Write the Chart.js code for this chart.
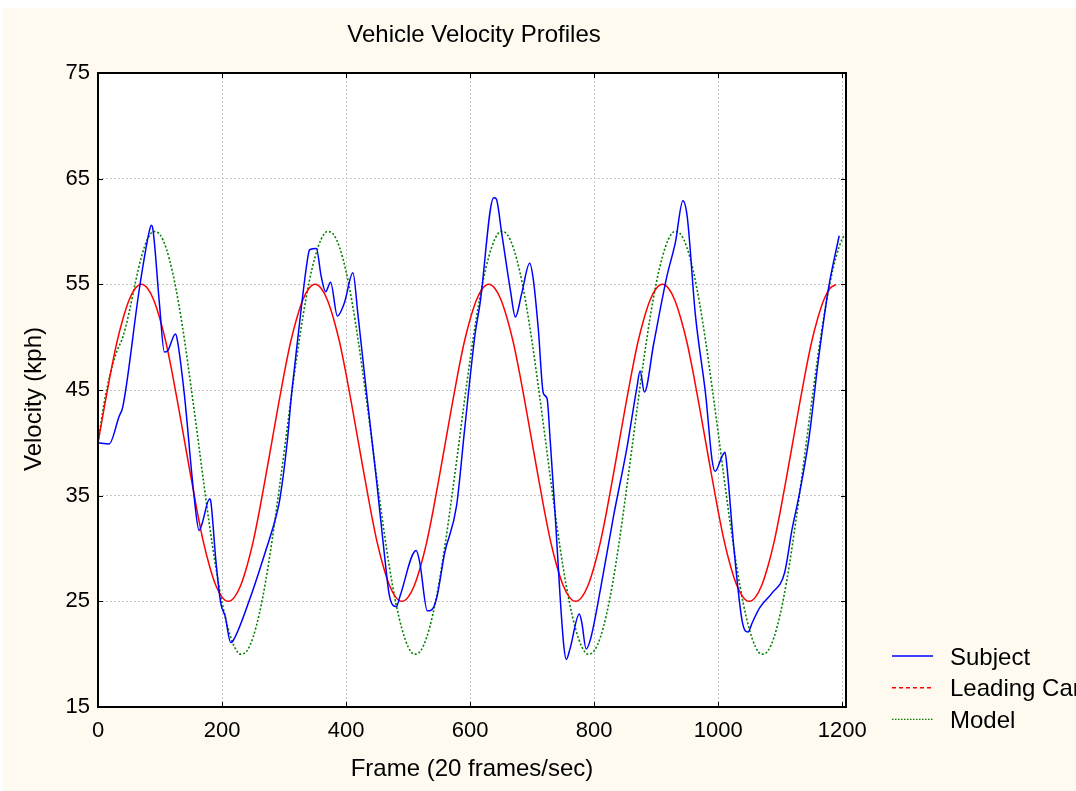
<!DOCTYPE html>
<html>
<head>
<meta charset="utf-8">
<title>Vehicle Velocity Profiles</title>
<script src="https://cdn.jsdelivr.net/npm/chart.js@4.4.1/dist/chart.umd.min.js"></script>
<style>
  html, body { margin: 0; padding: 0; background: #ffffff; }
  #wrap { width: 1076px; height: 791px; position: relative; }
</style>
</head>
<body>
<div id="wrap"><canvas id="velocityChart"></canvas></div>
<script>
"use strict";

// frame numbers sampled every 10 frames (20 frames/sec)
const frames = [
  0, 10, 20, 30, 40, 50, 60, 70, 80, 90, 100, 110, 120, 130, 140, 150, 160, 170, 180, 190,
  200, 210, 220, 230, 240, 250, 260, 270, 280, 290, 300, 310, 320, 330, 340, 350, 360, 370, 380, 390,
  400, 410, 420, 430, 440, 450, 460, 470, 480, 490, 500, 510, 520, 530, 540, 550, 560, 570, 580, 590,
  600, 610, 620, 630, 640, 650, 660, 670, 680, 690, 700, 710, 720, 730, 740, 750, 760, 770, 780, 790,
  800, 810, 820, 830, 840, 850, 860, 870, 880, 890, 900, 910, 920, 930, 940, 950, 960, 970, 980, 990,
  1000, 1010, 1020, 1030, 1040, 1050, 1060, 1070, 1080, 1090, 1100, 1110, 1120, 1130, 1140, 1150, 1160, 1170, 1180, 1190,
  1200, 1210
];

// leading car speed (kph), frames 0..1190
const leadingCar = [
  40.0, 43.3, 46.5, 49.4, 51.7, 53.5, 54.6, 55.0, 54.6, 53.5, 51.7, 49.4, 46.5, 43.3, 40.0, 36.7, 33.5, 30.6, 28.3, 26.5,
  25.4, 25.0, 25.4, 26.5, 28.3, 30.6, 33.5, 36.7, 40.0, 43.3, 46.5, 49.4, 51.7, 53.5, 54.6, 55.0, 54.6, 53.5, 51.7, 49.4,
  46.5, 43.3, 40.0, 36.7, 33.5, 30.6, 28.3, 26.5, 25.4, 25.0, 25.4, 26.5, 28.3, 30.6, 33.5, 36.7, 40.0, 43.3, 46.5, 49.4,
  51.7, 53.5, 54.6, 55.0, 54.6, 53.5, 51.7, 49.4, 46.5, 43.3, 40.0, 36.7, 33.5, 30.6, 28.3, 26.5, 25.4, 25.0, 25.4, 26.5,
  28.3, 30.6, 33.5, 36.7, 40.0, 43.3, 46.5, 49.4, 51.7, 53.5, 54.6, 55.0, 54.6, 53.5, 51.7, 49.4, 46.5, 43.3, 40.0, 36.7,
  33.5, 30.6, 28.3, 26.5, 25.4, 25.0, 25.4, 26.5, 28.3, 30.6, 33.5, 36.7, 40.0, 43.3, 46.5, 49.4, 51.7, 53.5, 54.6, 55.0
];

// model output (kph), frames 0..1210
const model = [
  40.0, 43.8, 46.6, 48.6, 50.0, 52.3, 55.1, 57.6, 59.3, 60.0, 59.7, 58.4, 56.2, 53.2, 49.5, 45.3, 40.9, 36.4, 32.1, 28.2,
  24.9, 22.4, 20.7, 20.0, 20.3, 21.6, 23.8, 26.8, 30.5, 34.7, 39.1, 43.6, 47.9, 51.8, 55.1, 57.6, 59.3, 60.0, 59.7, 58.4,
  56.2, 53.2, 49.5, 45.3, 40.9, 36.4, 32.1, 28.2, 24.9, 22.4, 20.7, 20.0, 20.3, 21.6, 23.8, 26.8, 30.5, 34.7, 39.1, 43.6,
  47.9, 51.8, 55.1, 57.6, 59.3, 60.0, 59.7, 58.4, 56.2, 53.2, 49.5, 45.3, 40.9, 36.4, 32.1, 28.2, 24.9, 22.4, 20.7, 20.0,
  20.3, 21.6, 23.8, 26.8, 30.5, 34.7, 39.1, 43.6, 47.9, 51.8, 55.1, 57.6, 59.3, 60.0, 59.7, 58.4, 56.2, 53.2, 49.5, 45.3,
  40.9, 36.4, 32.1, 28.2, 24.9, 22.4, 20.7, 20.0, 20.3, 21.6, 23.8, 26.8, 30.5, 34.7, 39.1, 43.6, 47.9, 51.8, 55.1, 57.6,
  59.3, 60.0
];

// subject (driver) speed, irregular samples
const subjectFrames = [
  0, 18, 34, 40, 67, 83, 86, 88, 99, 107, 112, 125, 128, 139, 155, 163, 168, 180, 182, 190,
  198, 205, 214, 217, 244, 271, 287, 293, 306, 311, 317, 328, 340, 342, 352, 360, 367, 375, 386, 397,
  411, 419, 433, 449, 462, 470, 481, 487, 513, 519, 531, 538, 546, 559, 578, 591, 608, 616, 638, 642,
  651, 665, 673, 683, 696, 702, 710, 718, 724, 729, 737, 745, 751, 755, 761, 776, 780, 787, 794, 810,
  831, 853, 869, 874, 881, 896, 917, 931, 943, 950, 963, 980, 990, 995, 1006, 1011, 1014, 1025, 1039, 1048,
  1055, 1067, 1087, 1107, 1119, 1130, 1146, 1162, 1178, 1195
];
const subjectSpeed = [
  40.0, 39.9, 42.5, 43.4, 54.7, 60.1, 60.6, 60.4, 53.2, 48.6, 48.7, 50.3, 49.7, 44.7, 34.9, 31.7, 32.4, 34.7, 34.4, 28.9,
  24.8, 23.6, 21.1, 21.2, 25.1, 29.9, 33.0, 34.6, 40.6, 44.0, 47.2, 52.9, 58.1, 58.3, 58.4, 55.7, 54.3, 55.2, 52.0, 53.2,
  56.1, 52.2, 44.7, 36.5, 29.3, 25.5, 24.5, 25.5, 29.8, 28.6, 24.1, 24.2, 25.3, 29.6, 34.0, 41.2, 50.3, 53.2, 63.2, 63.1,
  59.8, 54.4, 51.9, 54.1, 57.0, 55.4, 50.7, 44.7, 44.2, 40.3, 33.3, 25.5, 20.8, 19.5, 20.5, 23.8, 23.0, 20.5, 21.4, 26.1,
  33.0, 39.6, 45.3, 46.8, 44.8, 49.4, 55.7, 59.0, 62.9, 61.4, 52.2, 44.4, 38.4, 37.3, 38.7, 39.1, 37.8, 30.2, 23.0, 22.1,
  23.0, 24.4, 25.8, 27.7, 31.8, 34.9, 40.3, 48.1, 54.7, 59.6
];

const xTicks = [0, 200, 400, 600, 800, 1000, 1200];
const yTicks = [15, 25, 35, 45, 55, 65, 75];

const FONT = "'Liberation Sans', Arial, sans-serif";

function pairs(xs, ys) {
  return ys.map((y, i) => ({ x: xs[i], y: y }));
}

// background, frame, inner ticks, titles and legend
const decor = {
  id: "decor",
  beforeDraw(chart) {
    const ctx = chart.ctx;
    const a = chart.chartArea;
    ctx.save();
    ctx.fillStyle = "#ffffff";
    ctx.fillRect(0, 0, chart.width, chart.height);
    ctx.fillStyle = "#fffaf0";
    ctx.fillRect(3, 8, chart.width - 3, chart.height - 8);
    ctx.fillStyle = "#ffffff";
    ctx.fillRect(a.left, a.top, a.right - a.left, a.bottom - a.top);
    ctx.restore();
  },
  afterDraw(chart) {
    const ctx = chart.ctx;
    const a = chart.chartArea;
    const xs = chart.scales.x;
    const ys = chart.scales.y;
    ctx.save();
    ctx.strokeStyle = "#000000";
    ctx.lineWidth = 1;
    ctx.beginPath();
    xTicks.forEach((v) => {
      const px = Math.round(xs.getPixelForValue(v)) + 0.5;
      ctx.moveTo(px, a.top); ctx.lineTo(px, a.top + 5);
      ctx.moveTo(px, a.bottom); ctx.lineTo(px, a.bottom - 5);
    });
    yTicks.forEach((v) => {
      const py = Math.round(ys.getPixelForValue(v)) + 0.5;
      ctx.moveTo(a.left, py); ctx.lineTo(a.left + 5, py);
      ctx.moveTo(a.right, py); ctx.lineTo(a.right - 5, py);
    });
    ctx.stroke();
    ctx.lineWidth = 2;
    ctx.strokeRect(a.left, a.top, a.right - a.left, a.bottom - a.top);

    ctx.fillStyle = "#000000";
    ctx.font = "24px " + FONT;
    ctx.textAlign = "center";
    ctx.textBaseline = "middle";
    // chart title
    ctx.fillText("Vehicle Velocity Profiles", (a.left + a.right) / 2 + 2, 35);
    // y axis title
    ctx.save();
    ctx.translate(34, 399);
    ctx.rotate(-Math.PI / 2);
    ctx.fillText("Velocity (kph)", 0, 0);
    ctx.restore();

    // legend
    const items = [
      { label: "Subject", color: "#0000ff", dash: [] },
      { label: "Leading Car", color: "#ff0000", dash: [4, 3] },
      { label: "Model", color: "#008000", dash: [1.5, 1.5] }
    ];
    ctx.textAlign = "left";
    items.forEach((it, i) => {
      const y = 656 + i * 31.7;
      ctx.strokeStyle = it.color;
      ctx.lineWidth = 1.4;
      ctx.setLineDash(it.dash);
      ctx.beginPath();
      ctx.moveTo(892, y);
      ctx.lineTo(933, y);
      ctx.stroke();
      ctx.setLineDash([]);
      ctx.fillStyle = "#000000";
      ctx.fillText(it.label, 950, y + 2);
    });
    ctx.restore();
  }
};

const ctx = document.getElementById("velocityChart").getContext("2d");
const velocityChart = new Chart(ctx, {
  type: "line",
  data: {
    datasets: [
      {
        label: "Subject",
        data: pairs(subjectFrames, subjectSpeed),
        borderColor: "#0000ff",
        borderWidth: 1.5,
        pointRadius: 0,
        cubicInterpolationMode: "monotone"
      },
      {
        label: "Leading Car",
        data: pairs(frames, leadingCar),
        borderColor: "#ff0000",
        borderWidth: 1.5,
        pointRadius: 0,
        cubicInterpolationMode: "monotone"
      },
      {
        label: "Model",
        data: pairs(frames, model),
        borderColor: "#008000",
        borderWidth: 1.6,
        borderDash: [2, 2],
        pointRadius: 0,
        cubicInterpolationMode: "monotone"
      }
    ]
  },
  options: {
    responsive: true,
    maintainAspectRatio: false,
    animation: false,
    events: [],
    layout: { padding: { left: 0, top: 73, right: 230, bottom: 0 } },
    plugins: {
      legend: { display: false },
      tooltip: { enabled: false },
      title: { display: false }
    },
    scales: {
      x: {
        type: "linear",
        min: 0,
        max: 1206,
        afterBuildTicks: (s) => { s.ticks = xTicks.map((v) => ({ value: v })); },
        afterFit: (s) => { s.height = 84; },
        grid: { color: "#c4c4c4", lineWidth: 1, drawTicks: false },
        border: { display: false, dash: [2, 2] },
        ticks: {
          color: "#000000",
          padding: 11,
          maxRotation: 0,
          font: { family: FONT, size: 22 },
          callback: (v) => String(v)
        },
        title: {
          display: true,
          text: "Frame (20 frames/sec)",
          color: "#000000",
          font: { family: FONT, size: 24 },
          padding: { top: 0, bottom: 7 }
        }
      },
      y: {
        type: "linear",
        min: 15,
        max: 75,
        afterBuildTicks: (s) => { s.ticks = yTicks.map((v) => ({ value: v })); },
        afterFit: (s) => { s.width = 98; },
        grid: { color: "#c4c4c4", lineWidth: 1, drawTicks: false },
        border: { display: false, dash: [2, 2] },
        ticks: {
          color: "#000000",
          padding: 8,
          font: { family: FONT, size: 22 },
          callback: (v) => String(v)
        },
        title: { display: false }
      }
    }
  },
  plugins: [decor]
});
</script>
</body>
</html>
